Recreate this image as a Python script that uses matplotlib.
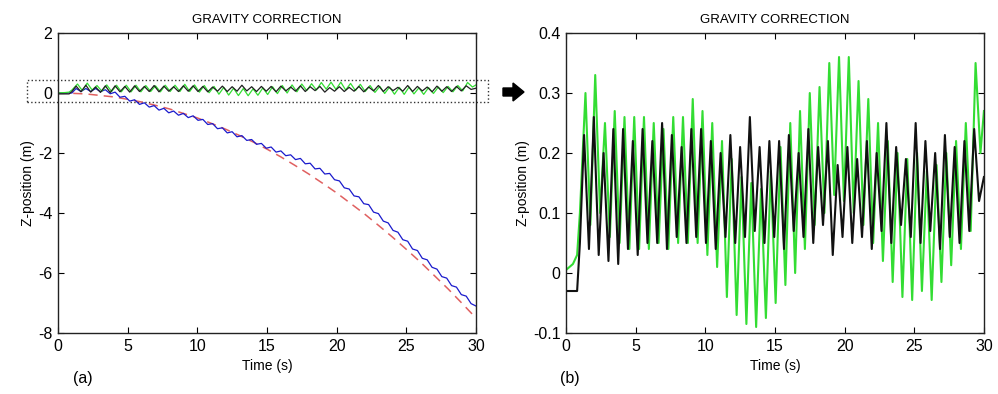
import numpy as np
import matplotlib
matplotlib.use('Agg')
import matplotlib.pyplot as plt
from matplotlib.patches import Rectangle, FancyArrow

plt.rcParams['font.family'] = ['Liberation Sans', 'DejaVu Sans']
plt.rcParams['axes.unicode_minus'] = False

# black curve: flat start, then peak/trough values (alternating, peak first)
black_start_t = [0.0, 0.8, 1.0]
black_start = [-0.03, -0.03, 0.05]
black_ext = [0.23, 0.04, 0.26, 0.03, 0.20, 0.02, 0.24, 0.015, 0.24, 0.04,
             0.22, 0.03, 0.24, 0.05, 0.22, 0.05, 0.25, 0.04, 0.23, 0.06,
             0.21, 0.05, 0.24, 0.06, 0.24, 0.05, 0.22, 0.04, 0.20, 0.06,
             0.23, 0.05, 0.21, 0.06, 0.26, 0.07, 0.21, 0.05, 0.22, 0.06,
             0.22, 0.04, 0.23, 0.07, 0.20, 0.06, 0.24, 0.05, 0.21, 0.08,
             0.22, 0.03, 0.18, 0.06, 0.21, 0.05, 0.19, 0.06, 0.22, 0.04,
             0.20, 0.07, 0.25, 0.05, 0.21, 0.08, 0.19, 0.06, 0.25, 0.05,
             0.22, 0.07, 0.20, 0.04, 0.23, 0.06, 0.21, 0.05, 0.22, 0.07,
             0.24, 0.12]
black_end = 0.16

# green curve
green_start_t = [0.0, 0.5, 0.8, 1.0]
green_start = [0.005, 0.015, 0.03, 0.10]
green_ext = [0.30, 0.08, 0.33, 0.10, 0.25, 0.06, 0.27, 0.05, 0.26, 0.04,
             0.26, 0.04, 0.26, 0.04, 0.25, 0.05, 0.24, 0.04, 0.26, 0.05,
             0.26, 0.05, 0.29, 0.05, 0.27, 0.03, 0.25, 0.01, 0.22, -0.04,
             0.19, -0.07, 0.16, -0.085, 0.15, -0.09, 0.14, -0.075, 0.17, -0.05,
             0.21, -0.02, 0.25, 0.0, 0.27, 0.04, 0.30, 0.08, 0.31, 0.10,
             0.35, 0.13, 0.36, 0.12, 0.36, 0.10, 0.32, 0.08, 0.29, 0.05,
             0.25, 0.02, 0.22, -0.015, 0.20, -0.04, 0.19, -0.045, 0.20, -0.03,
             0.17, -0.045, 0.18, -0.015, 0.20, 0.013, 0.22, 0.04, 0.25, 0.07,
             0.35, 0.20]
green_end = 0.27

# blue curve (left panel)
blue_start_t = [0.0, 1.0]
blue_start = [0.0, 0.0]
blue_ext = [0.15, 0.05, 0.15, 0.05, 0.15, 0.045, 0.11, -0.025, 0.03, -0.14,
            -0.11, -0.27, -0.225, -0.38, -0.325, -0.47, -0.42, -0.57, -0.51, -0.66,
            -0.60, -0.74, -0.68, -0.82, -0.76, -0.91, -0.88, -1.05, -1.02, -1.19,
            -1.16, -1.33, -1.29, -1.46, -1.42, -1.58, -1.55, -1.71, -1.68, -1.84,
            -1.80, -1.97, -1.93, -2.09, -2.06, -2.22, -2.18, -2.36, -2.34, -2.53,
            -2.51, -2.70, -2.68, -2.89, -2.93, -3.16, -3.20, -3.43, -3.46, -3.69,
            -3.72, -3.97, -4.02, -4.27, -4.33, -4.58, -4.64, -4.89, -4.94, -5.20,
            -5.25, -5.51, -5.56, -5.81, -5.87, -6.12, -6.17, -6.42, -6.47, -6.72,
            -6.77, -7.02]
blue_end = -7.1

# red dashed reference, one value per second
red_t = list(range(0, 31))
red = [0, -0.01, -0.03, -0.08, -0.13, -0.21, -0.30, -0.41, -0.53, -0.68,
       -0.83, -1.01, -1.20, -1.41, -1.63, -1.87, -2.13, -2.41, -2.70, -3.01,
       -3.33, -3.68, -4.03, -4.41, -4.80, -5.21, -5.63, -6.08, -6.53, -7.01, -7.50]

# assemble time axes (sample grid of the read extrema)
t_black = black_start_t + list(np.linspace(1.3, 29.65, len(black_ext))) + [30.0]
y_black = black_start + black_ext + [black_end]
t_green = green_start_t + list(np.linspace(1.4, 29.75, len(green_ext))) + [30.0]
y_green = green_start + green_ext + [green_end]
t_blue = blue_start_t + list(np.linspace(1.3, 29.65, len(blue_ext))) + [30.0]
y_blue = blue_start + blue_ext + [blue_end]

GREEN = '#33dd33'

fig = plt.figure(figsize=(9.98, 3.94), dpi=100)
ax1 = fig.add_axes([0.0581, 0.1548, 0.4188, 0.7614])
ax2 = fig.add_axes([0.5671, 0.1548, 0.4188, 0.7614])

# left panel
ax1.plot(red_t, red, color='#e06060', lw=1.1, ls=(0, (6, 4)))
ax1.plot(t_blue, y_blue, color='#1a1acc', lw=0.9)
ax1.plot(t_green, y_green, color=GREEN, lw=0.9)
ax1.plot(t_black, y_black, color='#202020', lw=0.9)
ax1.set_xlim(0, 30)
ax1.set_ylim(-8, 2)
ax1.set_xticks(range(0, 31, 5))
ax1.set_yticks(range(-8, 3, 2))
ax1.add_patch(Rectangle((-2.2, -0.3), 33.1, 0.73, fill=False, ls=':',
                        lw=1.0, ec='#333333', clip_on=False))

# right panel
ax2.plot(t_green, y_green, color=GREEN, lw=1.5)
ax2.plot(t_black, y_black, color='#111111', lw=1.5)
ax2.set_xlim(0, 30)
ax2.set_ylim(-0.1, 0.4)
ax2.set_xticks(range(0, 31, 5))
ax2.set_yticks([-0.1, 0, 0.1, 0.2, 0.3, 0.4])
ax2.set_yticklabels(['-0.1', '0', '0.1', '0.2', '0.3', '0.4'])

for ax in (ax1, ax2):
    ax.tick_params(direction='in', top=True, right=True, length=4,
                   labelsize=11.5, pad=4)
    for s in ax.spines.values():
        s.set_linewidth(1.0)
        s.set_color('#222222')
    ax.set_title('GRAVITY CORRECTION', fontsize=9.5, pad=7)
    ax.set_xlabel('Time (s)', fontsize=10, labelpad=4)
    ax.set_ylabel('Z-position (m)', fontsize=10, labelpad=2)

fig.text(83 / 998, 1 - 378 / 394, '(a)', fontsize=11.5, ha='center', va='center')
fig.text(570 / 998, 1 - 378 / 394, '(b)', fontsize=11.5, ha='center', va='center')

# arrow between panels
fig.patches.append(FancyArrow(503 / 998, 1 - 92 / 394, 10 / 998, 0,
                              width=8 / 394, head_width=18 / 394,
                              head_length=11 / 998, length_includes_head=False,
                              transform=fig.transFigure, color='black'))

fig.savefig('out.png', dpi=100)
